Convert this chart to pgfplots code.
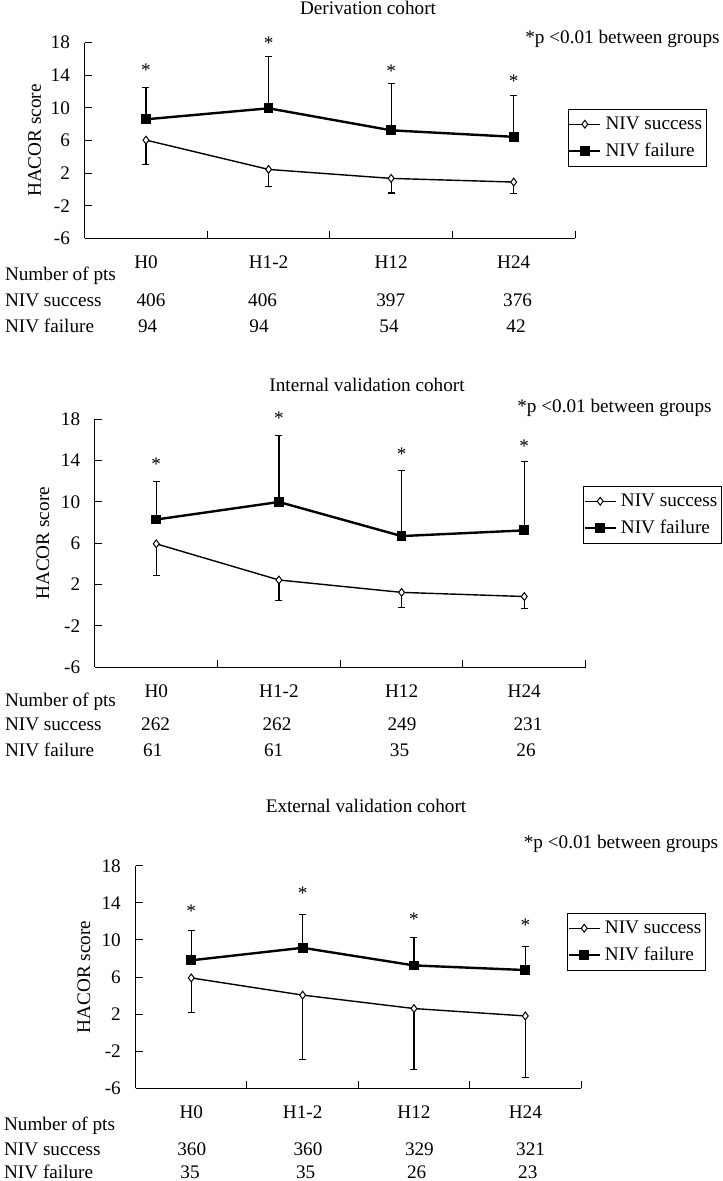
\documentclass[border=0pt]{standalone}
\usepackage{fontspec}
\setmainfont{Liberation Serif}
\usepackage{pgfplots}
\pgfplotsset{compat=1.18}

% shared look of the three panels
\pgfplotsset{
  hacor/.style={
    scale only axis, anchor=south west,
    xmin=-0.5, xmax=3.5, ymin=-6, ymax=18,
    xtick={0.5,1.5,2.5,3.5}, xticklabels={,,,},
    extra x ticks={0,1,2,3},
    extra x tick labels={H0,H1-2,H12,H24},
    extra x tick style={major tick length=0pt,
      xticklabel style={anchor=base, yshift=-15pt}},
    ytick={-6,-2,2,6,10,14,18},
    axis x line=bottom, axis y line=left,
    axis line style={-, line width=0.5pt},
    tick align=inside, major tick length=3.75pt,
    tick style={black, line width=0.5pt},
    yticklabel style={xshift=-4pt},
    /pgf/number format/assume math mode=true,
    ylabel={HACOR score},
    clip=false,
    legend cell align=left,
    legend style={anchor=north west, draw=black, line width=0.5pt, fill=white,
      inner xsep=0pt, inner ysep=1.5pt, row sep=1.5pt},
    legend image code/.code={
      \draw[mark repeat=2, mark phase=2, #1]
        plot coordinates {(0pt,0pt) (7.75pt,0pt) (15.5pt,0pt)};
    },
  },
  succ/.style={black, line width=0.7pt, mark=diamond*, mark size=1.95pt,
    mark options={fill=white, line width=0.5pt},
    error bars/y dir=minus, error bars/y explicit,
    error bars/error bar style={line width=0.6pt},
    error bars/error mark options={rotate=90, mark size=1.75pt, line width=0.6pt}},
  fail/.style={black, line width=1.2pt, mark=square*, mark size=2.2pt,
    mark options={fill=black, line width=0.5pt},
    error bars/y dir=plus, error bars/y explicit,
    error bars/error bar style={line width=0.6pt},
    error bars/error mark options={rotate=90, mark size=1.75pt, line width=0.6pt}},
  star/.style={draw=none, mark=none, forget plot,
    nodes near coords={*},
    every node near coord/.style={anchor=base, yshift=-4.6pt, black}},
}

\begin{document}
\fontsize{9.6}{11.5}\selectfont
\begin{tikzpicture}[txt/.style={inner sep=0pt}]
\useasboundingbox (0,0) rectangle (361pt,-590.5pt);

% ---------- Derivation cohort
\begin{axis}[hacor, at={(42.35pt,-119.15pt)}, width=245.15pt, height=97.8pt,
  every axis y label/.style={at={(axis description cs:-0.102,0.5)}, rotate=90, anchor=center},
  legend style={at={(axis description cs:0.985,0.661)}}]
  \addplot[succ] coordinates {(0,6.05) +- (0,3.0) (1,2.45) +- (0,2.05) (2,1.35) +- (0,1.8) (3,0.9) +- (0,1.4)};
  \addlegendentry{NIV success}
  \addplot[fail] coordinates {(0,8.6) +- (0,3.9) (1,9.95) +- (0,6.4) (2,7.25) +- (0,5.75) (3,6.45) +- (0,5.1)};
  \addlegendentry{NIV failure}
  \addplot[star] coordinates {(0,15.0) (1,18.3) (2,14.85) (3,13.6)};
\end{axis}
\node[txt, anchor=base] at (184pt,-7.5pt) {Derivation cohort};
\node[txt, anchor=base east] at (360pt,-22pt) {*p <0.01 between groups};
\node[txt, anchor=base west] at (2.3pt,-140.5pt) {Number of pts};
\node[txt, anchor=base west] at (2.3pt,-153.5pt) {NIV success};
\node[txt, anchor=base west] at (2.3pt,-166.25pt) {NIV failure};
\node[txt, anchor=base] at (75.5pt,-153.5pt) {406};
\node[txt, anchor=base] at (131.3pt,-153.5pt) {406};
\node[txt, anchor=base] at (195.35pt,-153.5pt) {397};
\node[txt, anchor=base] at (258.8pt,-153.5pt) {376};
\node[txt, anchor=base] at (73.85pt,-166.25pt) {94};
\node[txt, anchor=base] at (129.5pt,-166.25pt) {94};
\node[txt, anchor=base] at (194.5pt,-166.25pt) {54};
\node[txt, anchor=base] at (258pt,-166.25pt) {42};

% ---------- Internal validation cohort
\begin{axis}[hacor, at={(47.45pt,-333.65pt)}, width=245.35pt, height=124pt,
  every axis y label/.style={at={(axis description cs:-0.106,0.5)}, rotate=90, anchor=center},
  legend style={at={(axis description cs:0.9947,0.731)}}]
  \addplot[succ] coordinates {(0,5.95) +- (0,3.1) (1,2.45) +- (0,2.0) (2,1.25) +- (0,1.5) (3,0.85) +- (0,1.15)};
  \addlegendentry{NIV success}
  \addplot[fail] coordinates {(0,8.3) +- (0,3.65) (1,10.0) +- (0,6.4) (2,6.7) +- (0,6.35) (3,7.25) +- (0,6.7)};
  \addlegendentry{NIV failure}
  \addplot[star] coordinates {(0,13.97) (1,18.35) (2,14.94) (3,15.68)};
\end{axis}
\node[txt, anchor=base] at (183.5pt,-195.85pt) {Internal validation cohort};
\node[txt, anchor=base east] at (356pt,-206.15pt) {*p <0.01 between groups};
\node[txt, anchor=base west] at (2.3pt,-353pt) {Number of pts};
\node[txt, anchor=base west] at (2.3pt,-365.35pt) {NIV success};
\node[txt, anchor=base west] at (2.3pt,-378pt) {NIV failure};
\node[txt, anchor=base] at (77.8pt,-365.35pt) {262};
\node[txt, anchor=base] at (138.5pt,-365.35pt) {262};
\node[txt, anchor=base] at (201pt,-365.35pt) {249};
\node[txt, anchor=base] at (264pt,-365.35pt) {231};
\node[txt, anchor=base] at (76.4pt,-378pt) {61};
\node[txt, anchor=base] at (136.8pt,-378pt) {61};
\node[txt, anchor=base] at (199.75pt,-378pt) {35};
\node[txt, anchor=base] at (263pt,-378pt) {26};

% ---------- External validation cohort
\begin{axis}[hacor, at={(67.8pt,-544.15pt)}, width=222.7pt, height=111.3pt,
  every axis y label/.style={at={(axis description cs:-0.116,0.5)}, rotate=90, anchor=center},
  legend style={at={(axis description cs:0.9686,0.7875)}}]
  \addplot[succ] coordinates {(0,5.9) +- (0,3.75) (1,4.05) +- (0,6.95) (2,2.6) +- (0,6.55) (3,1.8) +- (0,6.6)};
  \addlegendentry{NIV success}
  \addplot[fail] coordinates {(0,7.8) +- (0,3.2) (1,9.15) +- (0,3.6) (2,7.25) +- (0,3.0) (3,6.75) +- (0,2.5)};
  \addlegendentry{NIV failure}
  \addplot[star] coordinates {(0,13.4) (1,15.38) (2,12.57) (3,11.86)};
\end{axis}
\node[txt, anchor=base] at (183pt,-406.35pt) {External validation cohort};
\node[txt, anchor=base east] at (359.25pt,-424.15pt) {*p <0.01 between groups};
\node[txt, anchor=base west] at (1.85pt,-565pt) {Number of pts};
\node[txt, anchor=base west] at (1.85pt,-577.5pt) {NIV success};
\node[txt, anchor=base west] at (1.85pt,-589.35pt) {NIV failure};
\node[txt, anchor=base] at (95.85pt,-577.5pt) {360};
\node[txt, anchor=base] at (154pt,-577.5pt) {360};
\node[txt, anchor=base] at (209.7pt,-577.5pt) {329};
\node[txt, anchor=base] at (265.3pt,-577.5pt) {321};
\node[txt, anchor=base] at (95pt,-589.35pt) {35};
\node[txt, anchor=base] at (152.8pt,-589.35pt) {35};
\node[txt, anchor=base] at (208.35pt,-589.35pt) {26};
\node[txt, anchor=base] at (263.9pt,-589.35pt) {23};
\end{tikzpicture}
\end{document}
